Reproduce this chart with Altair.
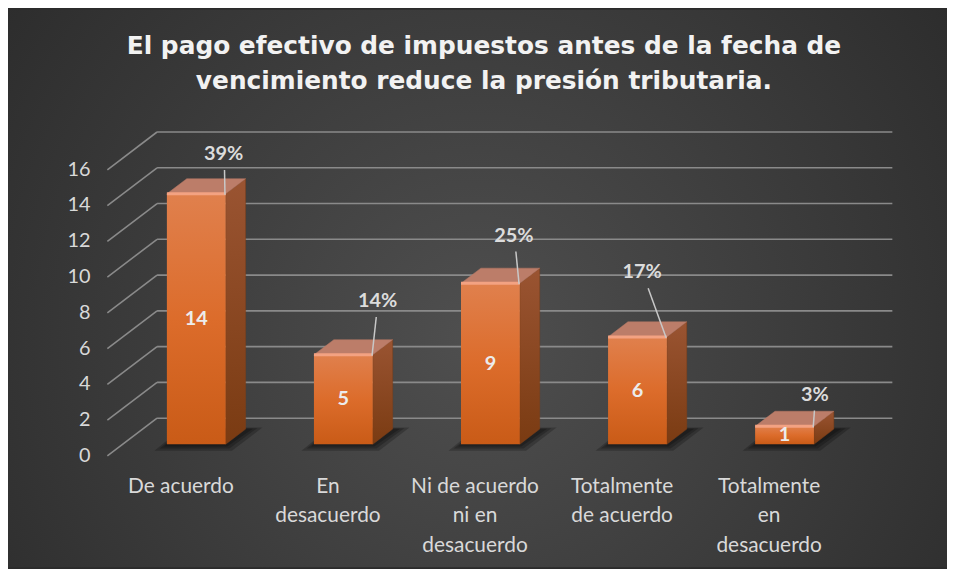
import altair as alt
import pandas as pd

# ---------------- data ----------------
title_lines = ["El pago efectivo de impuestos antes de la fecha de",
               "vencimiento reduce la presión tributaria."]
categories = ["De acuerdo", "En desacuerdo", "Ni de acuerdo ni en desacuerdo",
              "Totalmente de acuerdo", "Totalmente en desacuerdo"]
category_lines = [["De acuerdo"], ["En", "desacuerdo"], ["Ni de acuerdo", "ni en", "desacuerdo"],
                  ["Totalmente", "de acuerdo"], ["Totalmente", "en", "desacuerdo"]]
counts = [14, 5, 9, 6, 1]
percent_labels = ["39%", "14%", "25%", "17%", "3%"]
y_ticks = [0, 2, 4, 6, 8, 10, 12, 14, 16]

# ---------------- layout / 3-D geometry (style, not data) ----------------
W, H = 740, 288
PAD = {"left": 100, "top": 161, "right": 105, "bottom": 112}
PX_X = W / 5.0          # pixels per x unit
PX_Y = H / 16.0         # pixels per y unit
DX = 50 / PX_X          # full floor depth, x shift in data units
DY = 38 / PX_Y          # full floor depth, y shift in data units
D_F, D_B = 0.31, 0.71   # bar front / back depth
HW = 0.2                # half bar width
# custom label placement (pixels relative to front-top-right corner of bar)
pct_off_px = [(-2, -40), (5, -54), (-6, -48), (-25, -65), (1, -32)]

# ---------------- derived tables ----------------
front, polys, shadows, pct, lead = [], [], [], [], []
for i, v in enumerate(counts):
    xl_f, xr_f = i + D_F * DX - HW, i + D_F * DX + HW
    xl_b, xr_b = i + D_B * DX - HW, i + D_B * DX + HW
    b_f, b_b = D_F * DY, D_B * DY
    t_f, t_b = v + b_f, v + b_b
    front.append({"x": xl_f, "x2": xr_f, "y": b_f, "y2": t_f, "ym": b_f + v / 2,
                  "xm": (xl_f + xr_f) / 2, "label": str(v), "cat": categories[i]})
    for k, (px, py) in enumerate([(xr_f, b_f), (xr_f, t_f), (xr_b, t_b), (xr_b, b_b)]):
        polys.append({"id": f"s{i}", "face": "side", "k": k, "x": px, "y": py})
    for k, (px, py) in enumerate([(xl_f, t_f), (xr_f, t_f), (xr_b, t_b), (xl_b, t_b)]):
        polys.append({"id": f"t{i}", "face": "top", "k": k, "x": px, "y": py})
    # soft shadow: nested translucent floor polygons
    for lvl, e in enumerate([0.085, 0.05, 0.02]):
        ey = e * PX_X / PX_Y * 0.45
        pts = [(xl_f - e, b_f - 0.05 - ey), (xr_f + e * 0.5, b_f - 0.05 - ey),
               (xr_b + e + 0.03, b_b + ey * 0.3), (xl_b - e * 0.3, b_b + ey * 0.3)]
        for k, (px, py) in enumerate(pts):
            shadows.append({"id": f"sh{i}_{lvl}", "k": k, "x": px, "y": py})
    ox, oy = pct_off_px[i]
    lx, ly = xr_f + ox / PX_X, t_f - oy / PX_Y
    pct.append({"x": lx, "y": ly, "label": percent_labels[i]})
    f = 16.0 / abs(oy)
    lead.append({"x": lx + (xr_f - lx) * f, "y": ly + (t_f - ly) * f,
                 "x2": xr_f - 0.005, "y2": t_f - 0.05})

front = pd.DataFrame(front)
polys = pd.DataFrame(polys)
shadows = pd.DataFrame(shadows)
pct = pd.DataFrame(pct)
lead = pd.DataFrame(lead)

grid = []
for v in y_ticks:
    grid.append({"x": -0.5, "y": v, "x2": -0.5 + DX, "y2": v + DY, "tick": v})
    grid.append({"x": -0.5 + DX, "y": v + DY, "x2": 4.5 + DX, "y2": v + DY, "tick": v})
grid = pd.DataFrame(grid)
ticks_df = pd.DataFrame({"tick": y_ticks, "x": [-0.5] * len(y_ticks)})
cats_df = pd.DataFrame({"x": list(range(len(categories))), "lines": category_lines})

xs = alt.Scale(domain=[-0.5, 4.5], nice=False, zero=False)
ys = alt.Scale(domain=[0, 16], nice=False, zero=False)
X = lambda f: alt.X(f, scale=xs, axis=None)
Y = lambda f: alt.Y(f, scale=ys, axis=None)

# ---------------- layers ----------------
bg = alt.Chart(pd.DataFrame({"a": [0]})).mark_rect(
    fill={"gradient": "radial", "x1": 0.5, "y1": 0.55, "r1": 0, "x2": 0.5, "y2": 0.55, "r2": 0.72,
          "stops": [{"offset": 0, "color": "#4f4f4f"}, {"offset": 1, "color": "#272727"}]}
).encode(x=alt.value(-PAD["left"]), x2=alt.value(W + PAD["right"]),
         y=alt.value(-PAD["top"]), y2=alt.value(H + PAD["bottom"]))

tick_layer = alt.Chart(ticks_df).mark_text(
    font="Lato", fontSize=20, color="#d9d9d9", align="right", baseline="middle", dx=-17).encode(
    x=X("x:Q"), y=Y("tick:Q"), text="tick:Q")

grid_layer = alt.Chart(grid).mark_rule(color="#8a8a8a", strokeWidth=1.6).encode(
    x=X("x:Q"), y=Y("y:Q"), x2="x2:Q", y2="y2:Q")

shadow_layer = alt.Chart(shadows).mark_line(
    interpolate="linear-closed", fill="#000000", fillOpacity=0.22, strokeOpacity=0).encode(
    x=X("x:Q"), y=Y("y:Q"), detail="id:N", order="k:Q")

side_layer = alt.Chart(polys[polys.face == "side"]).mark_line(
    interpolate="linear-closed", strokeWidth=0.5, stroke="#7f3f16",
    fill={"gradient": "linear", "x1": 0, "y1": 0, "x2": 0, "y2": 1,
          "stops": [{"offset": 0, "color": "#9a5432"}, {"offset": 1, "color": "#7a3b12"}]}).encode(
    x=X("x:Q"), y=Y("y:Q"), detail="id:N", order="k:Q")

top_layer = alt.Chart(polys[polys.face == "top"]).mark_line(
    interpolate="linear-closed", strokeWidth=0.5, stroke="#b97a66", fill="#bc7d69").encode(
    x=X("x:Q"), y=Y("y:Q"), detail="id:N", order="k:Q")

front_layer = alt.Chart(front).mark_rect(
    fill={"gradient": "linear", "x1": 0, "y1": 0, "x2": 0, "y2": 1,
          "stops": [{"offset": 0, "color": "#e0804d"}, {"offset": 0.5, "color": "#dc6c2b"},
                    {"offset": 1, "color": "#c95b17"}]}).encode(
    x=X("x:Q"), x2="x2:Q", y=Y("y:Q"), y2="y2:Q")

hl_layer = alt.Chart(front).mark_rule(color="#f3a282", strokeWidth=3).encode(
    x=X("x:Q"), x2="x2:Q", y=Y("y2:Q"))

val_layer = alt.Chart(front).mark_text(
    font="Lato", fontSize=20, fontWeight="bold", color="#ececec", baseline="middle").encode(
    x=X("xm:Q"), y=Y("ym:Q"), text="label:N")

lead_layer = alt.Chart(lead).mark_rule(color="#c8c8c8", strokeWidth=1.5).encode(
    x=X("x:Q"), y=Y("y:Q"), x2="x2:Q", y2="y2:Q")

pct_layer = alt.Chart(pct).mark_text(
    font="Lato", fontSize=20, fontWeight="bold", color="#dcdcdc", baseline="middle").encode(
    x=X("x:Q"), y=Y("y:Q"), text="label:N")

cat_layer = alt.Chart(cats_df).mark_text(
    font="Lato", fontSize=21, color="#d9d9d9", baseline="top", lineHeight=30).encode(
    x=X("x:Q"), y=alt.value(H + 20), text="lines")

title_layers = [
    alt.Chart(pd.DataFrame({"a": [0]})).mark_text(
        font="DejaVu Sans", fontSize=25, fontWeight="bold", color="#f2f2f2", baseline="middle",
        align="center").encode(x=alt.value(W / 2 + 9), y=alt.value(yy), text=alt.value(t))
    for t, yy in zip(title_lines, [45 - 169, 80 - 169])
]

chart = alt.layer(bg, grid_layer, tick_layer, shadow_layer, side_layer, top_layer, front_layer,
                  hl_layer, val_layer, lead_layer, pct_layer, cat_layer, *title_layers).properties(
    width=W, height=H, padding=PAD, autosize=alt.AutoSizeParams(type="none"),
    background="#2b2b2b").configure_view(stroke=None)

chart.save("out.html", embed_options={"renderer": "svg", "actions": False})
